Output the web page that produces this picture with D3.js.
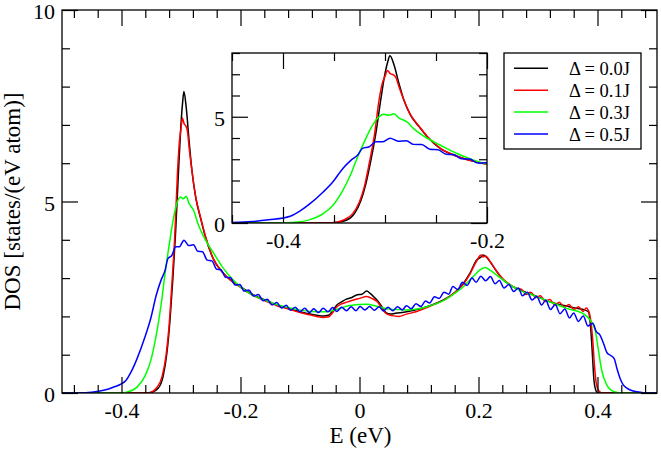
<!DOCTYPE html>
<html>
<head>
<meta charset="utf-8">
<script src="https://cdn.jsdelivr.net/npm/d3@7"></script>
<style>
  body { margin: 0; background: #ffffff; }
  svg text { font-family: "Liberation Serif", "Times New Roman", serif !important; }
</style>
</head>
<body>
<div id="chart"></div>
<script>
// series, legend text and colours
const seriesNames = ['Δ = 0.0J', 'Δ = 0.1J', 'Δ = 0.3J', 'Δ = 0.5J']
const seriesColors = ['#000000', '#ff0000', '#00ff00', '#0000ff']

// tick values / labels
const xMajorTicks = [-0.4, -0.2, 0, 0.2, 0.4]
const xTickLabels = ['-0.4', '-0.2', '0', '0.2', '0.4']
const yMajorTicks = [0, 5, 10]
const yTickLabels = ['0', '5', '10']
const insetXMajorTicks = [-0.4, -0.2]
const insetXTickLabels = ['-0.4', '-0.2']
const insetYMajorTicks = [0, 5]
const insetYTickLabels = ['0', '5']

// [E (eV), DOS]
const dos00 = [[-0.5,0],[-0.36,0],[-0.351,0.01],[-0.338,0.13],[-0.33,0.44],[-0.3235,1.07],[-0.3187,1.86],[-0.3138,2.96],
  [-0.309,4.22],[-0.3042,5.79],[-0.3005,6.9],[-0.2975,7.55],[-0.2951,7.87],[-0.2912,7.45],[-0.2864,6.58],[-0.2815,5.79],
  [-0.275,5.08],[-0.2669,4.55],[-0.259,4.08],[-0.246,3.51],[-0.23,3.15],[-0.213,2.9],[-0.2,2.78],[-0.185,2.62],[-0.167,2.48],
  [-0.15,2.37],[-0.139,2.3],[-0.125,2.23],[-0.111,2.17],[-0.097,2.11],[-0.083,2.06],[-0.072,2.03],[-0.061,2.01],[-0.052,2.03],
  [-0.045,2.15],[-0.038,2.3],[-0.03,2.38],[-0.022,2.45],[-0.012,2.5],[-0.005,2.56],[0.004,2.58],[0.012,2.66],[0.018,2.6],
  [0.026,2.48],[0.032,2.38],[0.038,2.24],[0.045,2.09],[0.052,2.06],[0.06,2.08],[0.079,2.12],[0.095,2.17],[0.113,2.25],
  [0.127,2.33],[0.141,2.43],[0.16,2.62],[0.1745,2.86],[0.1857,3.13],[0.197,3.47],[0.204,3.55],[0.208,3.6],[0.213,3.55],
  [0.2193,3.43],[0.2306,3.17],[0.2417,2.95],[0.252,2.83],[0.264,2.73],[0.278,2.64],[0.292,2.56],[0.306,2.47],[0.32,2.38],
  [0.334,2.32],[0.348,2.27],[0.362,2.22],[0.376,2.18],[0.3846,2.12],[0.387,1.95],[0.39,1.38],[0.392,0.85],[0.394,0.34],
  [0.397,0.08],[0.4,0.01],[0.405,0],[0.5,0]]

const dos01 = [[-0.5,0],[-0.36,0],[-0.352,0.01],[-0.3413,0.13],[-0.3316,0.44],[-0.3251,0.99],[-0.3203,1.7],[-0.3155,2.8],
  [-0.3106,4.06],[-0.3058,5.79],[-0.3026,6.58],[-0.3,6.9],[-0.2977,7.18],[-0.2945,7.02],[-0.292,6.98],[-0.289,6.82],
  [-0.2864,6.42],[-0.2815,5.79],[-0.275,5.1],[-0.267,4.58],[-0.259,4.1],[-0.246,3.52],[-0.23,3.15],[-0.213,2.9],[-0.2,2.76],
  [-0.185,2.6],[-0.167,2.46],[-0.15,2.35],[-0.139,2.28],[-0.125,2.22],[-0.111,2.15],[-0.097,2.09],[-0.083,2.04],[-0.072,2.0],
  [-0.061,1.97],[-0.052,1.99],[-0.045,2.1],[-0.038,2.25],[-0.03,2.33],[-0.02,2.38],[-0.01,2.43],[0,2.47],[0.012,2.52],
  [0.022,2.46],[0.03,2.38],[0.038,2.2],[0.045,2.07],[0.055,2.02],[0.066,2.0],[0.079,2.06],[0.095,2.12],[0.113,2.23],
  [0.127,2.32],[0.141,2.42],[0.16,2.62],[0.175,2.85],[0.186,3.12],[0.197,3.45],[0.204,3.6],[0.208,3.55],[0.212,3.58],
  [0.2193,3.44],[0.2306,3.18],[0.2417,2.97],[0.252,2.84],[0.264,2.73],[0.272,2.71],[0.28,2.57],[0.288,2.63],[0.296,2.49],
  [0.304,2.54],[0.312,2.39],[0.32,2.44],[0.328,2.3],[0.336,2.37],[0.344,2.24],[0.352,2.31],[0.36,2.18],[0.368,2.25],
  [0.376,2.13],[0.381,2.22],[0.386,2.1],[0.389,1.85],[0.392,1.38],[0.395,0.7],[0.398,0.25],[0.402,0.06],[0.408,0],[0.5,0]]

const dos03 = [[-0.5,0],[-0.4,0],[-0.392,0.02],[-0.3735,0.16],[-0.3606,0.44],[-0.351,0.84],[-0.3413,1.54],[-0.3332,2.33],
  [-0.3268,3.12],[-0.3203,3.82],[-0.3138,4.46],[-0.3074,4.93],[-0.301,5.12],[-0.2962,5.07],[-0.2913,5.14],[-0.2865,4.95],
  [-0.278,4.74],[-0.272,4.44],[-0.266,4.22],[-0.259,4.0],[-0.246,3.67],[-0.23,3.28],[-0.213,2.96],[-0.2,2.77],[-0.185,2.6],
  [-0.167,2.47],[-0.15,2.37],[-0.139,2.31],[-0.111,2.2],[-0.083,2.13],[-0.055,2.12],[-0.035,2.2],[-0.02,2.27],[0,2.31],
  [0.012,2.32],[0.03,2.26],[0.05,2.19],[0.079,2.17],[0.1,2.2],[0.113,2.25],[0.141,2.41],[0.16,2.6],[0.175,2.78],[0.191,3.04],
  [0.203,3.22],[0.211,3.28],[0.22,3.2],[0.2306,3.08],[0.253,2.82],[0.272,2.66],[0.292,2.55],[0.32,2.38],[0.348,2.21],
  [0.376,2.07],[0.387,1.92],[0.396,1.64],[0.4015,1.12],[0.407,0.6],[0.4155,0.21],[0.427,0.04],[0.44,0],[0.5,0]]

const dos05 = [[-0.5,0],[-0.47,0],[-0.45,0.02],[-0.43,0.07],[-0.414,0.15],[-0.3929,0.32],[-0.3832,0.57],[-0.3735,0.91],
  [-0.3606,1.46],[-0.351,1.94],[-0.3413,2.57],[-0.3332,2.96],[-0.3268,3.2],[-0.322,3.51],[-0.3155,3.59],[-0.309,3.82],
  [-0.3026,3.82],
  [-0.295,3.99],[-0.287,3.85],[-0.279,3.87],[-0.272,3.7],[-0.264,3.69],[-0.256,3.47],[-0.248,3.45],[-0.24,3.23],
  [-0.233,3.22],[-0.225,3.02],[-0.217,3.01],[-0.209,2.82],[-0.201,2.83],[-0.194,2.66],[-0.186,2.69],[-0.178,2.53],
  [-0.17,2.57],[-0.162,2.41],[-0.155,2.45],[-0.147,2.3],[-0.139,2.36],[-0.131,2.22],[-0.123,2.29],[-0.116,2.16],
  [-0.108,2.24],[-0.1,2.12],[-0.092,2.21],[-0.084,2.1],[-0.077,2.2],[-0.069,2.1],[-0.061,2.21],[-0.053,2.12],
  [-0.045,2.23],[-0.038,2.13],[-0.03,2.24],[-0.022,2.15],[-0.014,2.25],[-0.006,2.15],[0.001,2.26],[0.009,2.17],
  [0.017,2.26],[0.025,2.16],[0.033,2.25],[0.04,2.14],[0.048,2.24],[0.056,2.15],[0.064,2.25],[0.072,2.17],[0.079,2.28],
  [0.087,2.2],[0.095,2.33],[0.103,2.26],[0.111,2.4],[0.118,2.35],[0.126,2.51],[0.134,2.47],[0.142,2.63],[0.15,2.58],
  [0.157,2.78],[0.165,2.7],[0.173,2.89],[0.181,2.81],[0.189,3.0],[0.196,2.89],[0.204,3.05],[0.212,2.93],[0.22,3.04],
  [0.228,2.85],[0.235,2.94],[0.243,2.74],[0.251,2.83],[0.259,2.65],[0.267,2.74],[0.274,2.54],[0.282,2.63],[0.29,2.43],
  [0.298,2.52],[0.306,2.3],[0.313,2.42],[0.321,2.18],[0.329,2.31],[0.337,2.07],[0.345,2.19],[0.353,1.96],[0.36,2.09],
  [0.368,1.87],[0.376,2.01],[0.384,1.75],[0.392,1.82],[0.398,1.6],[0.404,1.52],[0.41,1.3],[0.416,1.05],[0.422,0.98],
  [0.428,0.9],[0.433,0.62],[0.438,0.38],[0.443,0.22],[0.45,0.12],[0.46,0.05],[0.472,0.02],[0.485,0],[0.5,0]]

const allSeries = [dos00, dos01, dos03, dos05]

const width = 661
const height = 449
const serif = '"Liberation Serif", "Times New Roman", serif'

const svg = d3.select('#chart')
  .append('svg')
  .attr('width', width)
  .attr('height', height)
  .attr('viewBox', [0, 0, width, height])

// main panel scales
const x = d3.scaleLinear().domain([-0.5, 0.5]).range([62, 657])
const y = d3.scaleLinear().domain([0, 10]).range([393, 10])
// inset scales
const xIn = d3.scaleLinear().domain([-0.45, -0.2]).range([232, 487])
const yIn = d3.scaleLinear().domain([0, 8]).range([223, 53])

const round = v => Math.round(v * 1000) / 1000

const drawPanel = (id, xs, ys, opts) => {
  const [x0, x1] = xs.range()
  const [y0, y1] = ys.range()   // y0 bottom, y1 top
  const g = svg.append('g').attr('class', id)

  g.append('rect')
    .attr('x', x0).attr('y', y1)
    .attr('width', x1 - x0).attr('height', y0 - y1)
    .attr('fill', '#ffffff')

  svg.append('defs').append('clipPath').attr('id', 'clip-' + id)
    .append('rect')
    .attr('x', x0).attr('y', y1)
    .attr('width', x1 - x0).attr('height', y0 - y1)

  const line = d3.line()
    .x(d => xs(d[0]))
    .y(d => ys(d[1]))
    .curve(d3.curveMonotoneX)

  g.append('g')
    .attr('clip-path', 'url(#clip-' + id + ')')
    .selectAll('path')
    .data(allSeries)
    .enter()
    .append('path')
    .attr('d', line)
    .attr('fill', 'none')
    .attr('stroke', (d, i) => seriesColors[i])
    .attr('stroke-width', 1.5)
    .attr('stroke-linejoin', 'round')

  const xMinor = d3.range(opts.xMinorStart, xs.domain()[1] + 1e-6, opts.xMinorStep).map(round)
    .filter(v => !opts.xMajor.includes(v))
  const yMinor = d3.range(0, ys.domain()[1] + 1e-6, 1).filter(v => !opts.yMajor.includes(v))

  const clean = a => a.call(s => s.select('.domain').remove())
    .attr('font-size', 22)
    .attr('font-family', serif)
    .call(s => s.selectAll('line').attr('stroke', '#000').attr('stroke-width', 1.2))
    .call(s => s.selectAll('text').attr('fill', '#000'))

  // major + minor ticks, inward, on all four sides
  const tickSets = [[opts.xMajor, 16, true], [xMinor, 8, false]]
  tickSets.forEach(([vals, len, lab]) => {
    g.append('g').attr('transform', `translate(0,${y0})`)
      .call(d3.axisBottom(xs).tickValues(vals).tickSize(-len).tickPadding(9.7)
        .tickFormat((d, i) => lab ? opts.xLabels[i] : ''))
      .call(clean)
    g.append('g').attr('transform', `translate(0,${y1})`)
      .call(d3.axisTop(xs).tickValues(vals).tickSize(-len).tickFormat(''))
      .call(clean)
  })
  const yTickSets = [[opts.yMajor, 16, true], [yMinor, 8, false]]
  yTickSets.forEach(([vals, len, lab]) => {
    g.append('g').attr('transform', `translate(${x0},0)`)
      .call(d3.axisLeft(ys).tickValues(vals).tickSize(-len).tickPadding(7)
        .tickFormat((d, i) => lab ? opts.yLabels[i] : ''))
      .call(clean)
      .call(s => s.selectAll('text').attr('dy', '0.39em'))
    g.append('g').attr('transform', `translate(${x1},0)`)
      .call(d3.axisRight(ys).tickValues(vals).tickSize(-len).tickFormat(''))
      .call(clean)
  })

  g.append('rect')
    .attr('x', x0).attr('y', y1)
    .attr('width', x1 - x0).attr('height', y0 - y1)
    .attr('fill', 'none')
    .attr('stroke', '#000')
    .attr('stroke-width', 1.3)
  return g
}

drawPanel('main', x, y, {
  xMajor: xMajorTicks, xLabels: xTickLabels, xMinorStart: -0.48, xMinorStep: 0.04,
  yMajor: yMajorTicks, yLabels: yTickLabels
})

drawPanel('inset', xIn, yIn, {
  xMajor: insetXMajorTicks, xLabels: insetXTickLabels, xMinorStart: -0.45, xMinorStep: 0.05,
  yMajor: insetYMajorTicks, yLabels: insetYTickLabels
})

// axis titles
svg.append('text')
  .attr('x', 360.5)
  .attr('y', 443.3)
  .attr('text-anchor', 'middle')
  .style('font-size', '23px')
  .text('E (eV)')

svg.append('text')
  .attr('transform', 'translate(20,201.5) rotate(-90)')
  .attr('text-anchor', 'middle')
  .style('font-size', '23px')
  .text('DOS [states/(eV atom)]')

// legend
const legend = svg.append('g').attr('class', 'legend')
legend.append('rect')
  .attr('x', 504).attr('y', 53)
  .attr('width', 137).attr('height', 96)
  .attr('fill', '#ffffff')
  .attr('stroke', '#000')
  .attr('stroke-width', 1.3)

const legendRow = legend.selectAll('g.row')
  .data(seriesNames)
  .enter()
  .append('g')
  .attr('class', 'row')
  .attr('transform', (d, i) => `translate(0,${68.3 + i * 21.9})`)

legendRow.append('line')
  .attr('x1', 514).attr('x2', 548)
  .attr('y1', 0).attr('y2', 0)
  .attr('stroke', (d, i) => seriesColors[i])
  .attr('stroke-width', 1.5)

legendRow.append('text')
  .attr('x', 569)
  .attr('y', 6.5)
  .style('font-size', '18.5px')
  .text(d => d)
</script>
</body>
</html>
